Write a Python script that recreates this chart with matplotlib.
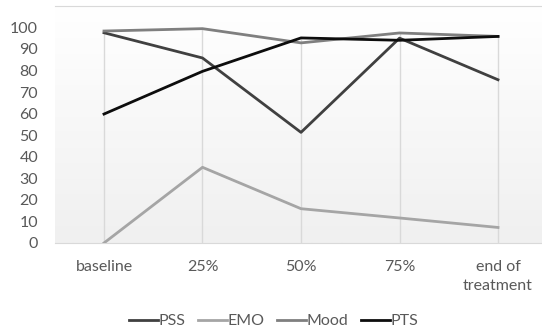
import numpy as np
import matplotlib
matplotlib.use("Agg")
import matplotlib.pyplot as plt
from matplotlib.colors import LinearSegmentedColormap

plt.rcParams['font.family'] = ['Lato', 'DejaVu Sans']

categories = ["baseline", "25%", "50%", "75%", "end of\ntreatment"]
pss = [97.5, 85.8, 51.3, 95.0, 75.7]
emo = [0.0, 35.1, 15.9, 11.6, 7.2]
mood = [98.3, 99.4, 92.8, 97.4, 95.8]
pts = [59.8, 79.6, 95.1, 94.0, 95.8]

fig = plt.figure(figsize=(5.42, 3.33), dpi=100)
ax = fig.add_axes([0.101, 0.2703, 0.9087, 0.7123])

x = np.arange(len(categories))

# gradient background
grad = LinearSegmentedColormap.from_list("g", ["#f0f0f0", "#ffffff"])
ax.imshow(np.linspace(0, 1, 100).reshape(-1, 1), cmap=grad, aspect="auto",
          extent=[-0.5, 4.5, 0, 110], origin="lower", zorder=0)

# drop lines
tops = np.max([pss, emo, mood, pts], axis=0)
ax.vlines(x, 0, tops, color="#d9d9d9", lw=1, zorder=1)

ax.plot(x, pss, color="#404040", lw=2.0, label="PSS", zorder=3)
ax.plot(x, emo, color="#a5a5a5", lw=2.0, label="EMO", zorder=3)
ax.plot(x, mood, color="#7f7f7f", lw=2.0, label="Mood", zorder=3)
ax.plot(x, pts, color="#0d0d0d", lw=2.0, label="PTS", zorder=4)

ax.set_xlim(-0.5, 4.5)
ax.set_ylim(0, 110)
ax.set_yticks(range(0, 101, 10))
ax.set_xticks(x)
ax.set_xticklabels(categories, linespacing=1.45)
ax.tick_params(length=0, labelsize=11.5, colors="#595959")
ax.tick_params(axis="y", pad=12)
ax.tick_params(axis="x", pad=12)

for s in ["left", "right"]:
    ax.spines[s].set_visible(False)
ax.spines["bottom"].set_color("#d9d9d9")
ax.spines["top"].set_color("#d9d9d9")

leg = fig.legend(loc="center", bbox_to_anchor=(0.505, 0.035), ncol=4, frameon=False,
                 fontsize=11.5, handlelength=1.8, handletextpad=0.05, columnspacing=0.8)
for t in leg.get_texts():
    t.set_color("#595959")

fig.savefig("out.png", dpi=100)
